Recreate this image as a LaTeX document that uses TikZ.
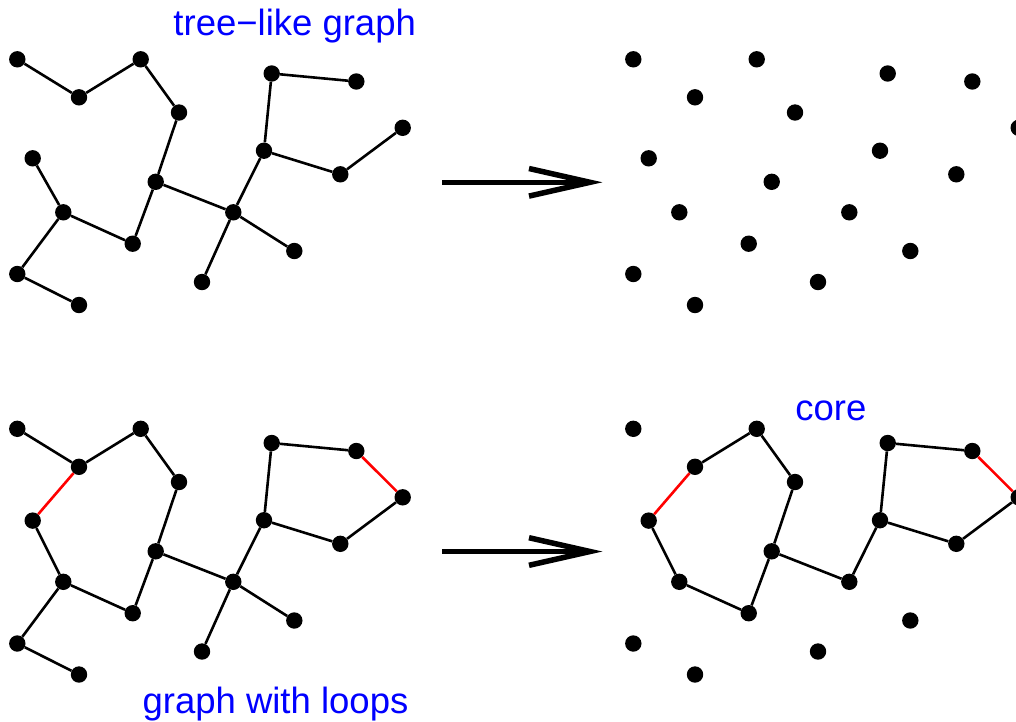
\documentclass[tikz,border=0pt]{standalone}
\usepackage{fontspec}
\setmainfont{Liberation Sans}
\usetikzlibrary{calc}
\definecolor{lblue}{RGB}{0,0,255}
\definecolor{lred}{RGB}{255,0,0}
\tikzset{
  dot/.style={circle,fill=black,inner sep=0pt,minimum size=16.4pt},
  edge/.style={line width=2.6pt,black},
  redge/.style={line width=2.6pt,lred},
  bigarrow/.style={line width=5.5pt,line join=miter},
  lbl/.style={text=lblue,font=\fontsize{36.5pt}{40pt}\selectfont,anchor=base,inner sep=0pt}
}
\newcommand\placedots[3]{%
  \foreach \n/\px/\py in {1/17.3/59.3,2/79/97.3,3/140.7/59.3,4/179/112.5,5/155.7/181.8,
     7/63.3/212.3,8/132.7/243.7,9/17.3/274,10/79/305,11/233.3/212.3,12/202/282,13/294.3/251,
     14/264/150.7,15/271.7/73.5,16/356.3/81.5,17/340.3/174.3,18/402.7/127.8}{
    \node[dot] (#1\n) at (\px+#2,\py+#3) {};
  }}
\begin{document}
\begin{tikzpicture}[x=1pt,y=-1pt]
\useasboundingbox (0,0) rectangle (1016,721);
\clip (0,0) rectangle (1016,721);
% top-left: tree-like graph
\placedots{a}{0}{0}
\node[dot] (a6) at (32.7,158.3) {};
\foreach \u/\v in {1/2,2/3,3/4,4/5,5/8,8/7,7/6,7/9,9/10,5/11,11/12,11/13,11/14,14/15,15/16,14/17,17/18}
  \draw[edge] (a\u) -- (a\v);
% top-right: dots only
\placedots{b}{616}{0}
\node[dot] (b6) at (648.7,158.3) {};
% bottom-left: graph with loops
\placedots{c}{0}{369.5}
\node[dot] (c6) at (32.7,520.6) {};
\foreach \u/\v in {1/2,2/3,3/4,4/5,5/8,8/7,7/6,7/9,9/10,5/11,11/12,11/13,11/14,14/15,15/16,14/17,17/18}
  \draw[edge] (c\u) -- (c\v);
\draw[redge] (c2) -- (c6);
\draw[redge] (c16) -- (c18);
% bottom-right: core
\placedots{d}{616}{369.5}
\node[dot] (d6) at (648.7,520.6) {};
\foreach \u/\v in {2/3,3/4,4/5,5/8,8/7,7/6,5/11,11/14,14/15,15/16,14/17,17/18}
  \draw[edge] (d\u) -- (d\v);
\draw[redge] (d2) -- (d6);
\draw[redge] (d16) -- (d18);
% arrows
\coordinate (p1s) at (442,182.3);
\coordinate (p1e) at (590,182.3);
\draw[bigarrow] (p1s) -- (p1e);
\draw[bigarrow] ($(p1e)+(-61,-13.8)$) -- (p1e) -- ($(p1e)+(-61,13.8)$);
\coordinate (p2s) at (442,551.5);
\coordinate (p2e) at (590,551.5);
\draw[bigarrow] (p2s) -- (p2e);
\draw[bigarrow] ($(p2e)+(-61,-13.8)$) -- (p2e) -- ($(p2e)+(-61,13.8)$);
% labels
\node[lbl] (t1) at (294.7,35) {tree−like graph};
\node[lbl] (t2) at (275.5,713.3) {graph with loops};
\node[lbl] (t3) at (830.8,420.7) {core};
\end{tikzpicture}
\end{document}
